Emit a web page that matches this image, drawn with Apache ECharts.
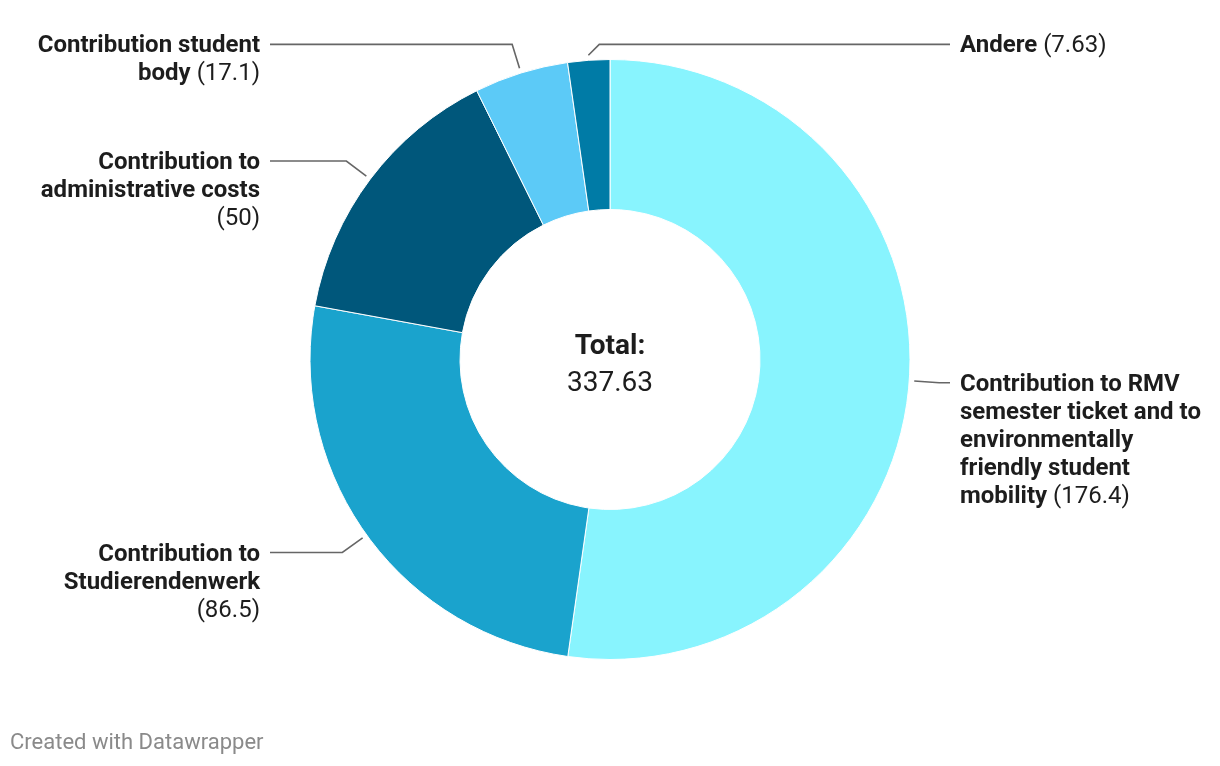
<!DOCTYPE html>
<html>
<head>
<meta charset="utf-8">
<script src="https://cdn.jsdelivr.net/npm/echarts@6/dist/echarts.min.js"></script>
<style>
html, body { margin: 0; padding: 0; background: #ffffff; }
#chart { width: 1220px; height: 766px; }
</style>
</head>
<body>
<div id="chart"></div>
<script>
// ---- data ----
const categories = [
  "Contribution to RMV\nsemester ticket and to\nenvironmentally\nfriendly student\nmobility",
  "Contribution to\nStudierendenwerk",
  "Contribution to\nadministrative costs",
  "Contribution student\nbody",
  "Andere"
];
const values = [176.4, 86.5, 50, 17.1, 7.63];
const valueOnNewLine = [false, true, true, false, false];
const totalLabel = "Total:";
const footerText = "Created with Datawrapper";

// ---- styling ----
const colors = ["#88f4fe", "#1aa3cd", "#00577b", "#5ccaf7", "#007ba6"];
const FONT = "Roboto";
const LABEL_SIZE = 24;
const LINE_H = 28;
const CX = 610, CY = 359.5, R_IN = 150, R_OUT = 300;

const total = Math.round(values.reduce((a, b) => a + b, 0) * 100) / 100;

const chart = echarts.init(document.getElementById("chart"), null, { renderer: "canvas" });

const seenY = [];
function layoutLabel(p) {
  const pts = p.labelLinePoints;
  if (!pts) return {};
  const i = p.dataIndex;
  let p0 = pts[0].slice();
  let p1 = pts[1].slice();
  // small gap between slice edge and leader line
  const ux = p0[0] - CX, uy = p0[1] - CY, ul = Math.sqrt(ux * ux + uy * uy);
  p0 = [p0[0] + ux / ul * 5, p0[1] + uy / ul * 5];
  let side = p1[0] < CX ? -1 : 1;
  let y = p1[1];
  // labels of slices right at the top go to the right column, aligned with their neighbour
  if (Math.abs(p1[0] - CX) < 40 && i > 0 && seenY[i - 1] != null) {
    side = 1;
    y = seenY[i - 1];
    p1 = [p0[0] + (p0[1] - y), y];
  }
  seenY[i] = y;
  const lineEnd = CX + side * (R_OUT + 40);
  return {
    x: CX + side * (R_OUT + 50),
    y: y - LINE_H / 2 + 2,
    align: side < 0 ? "right" : "left",
    verticalAlign: "top",
    labelLinePoints: [p0, p1, [lineEnd, y]]
  };
}

const option = {
  backgroundColor: "#ffffff",
  animation: false,
  graphic: [
    {
      type: "text",
      x: CX, y: CY - 13,
      style: {
        text: totalLabel, fontFamily: FONT, fontSize: 28, fontWeight: "bold",
        fill: "#1d1d1d", align: "center", verticalAlign: "middle"
      }
    },
    {
      type: "text",
      x: CX, y: CY + 24,
      style: {
        text: String(total), fontFamily: FONT, fontSize: 28,
        fill: "#1d1d1d", align: "center", verticalAlign: "middle"
      }
    },
    {
      type: "text",
      left: 10, top: 732,
      style: {
        text: footerText, fontFamily: FONT, fontSize: 22, fill: "#8a8a8a"
      }
    }
  ],
  series: [
    {
      type: "pie",
      center: [CX, CY],
      radius: [R_IN, R_OUT],
      startAngle: 90,
      clockwise: true,
      avoidLabelOverlap: false,
      silent: true,
      itemStyle: { borderColor: "#ffffff", borderWidth: 1 },
      label: {
        show: true,
        position: "outside",
        fontFamily: FONT,
        fontSize: LABEL_SIZE,
        lineHeight: LINE_H,
        color: "#1d1d1d",
        formatter: function (p) {
          const lines = p.name.split("\n").map(l => "{b|" + l + "}");
          const v = "{v|(" + p.value + ")}";
          if (valueOnNewLine[p.dataIndex]) lines.push(v);
          else lines[lines.length - 1] += "{v| }" + v;
          return lines.join("\n");
        },
        rich: {
          b: { fontFamily: FONT, fontSize: LABEL_SIZE, fontWeight: "bold", lineHeight: LINE_H, color: "#1d1d1d" },
          v: { fontFamily: FONT, fontSize: LABEL_SIZE, fontWeight: "normal", lineHeight: LINE_H, color: "#1d1d1d" }
        }
      },
      labelLine: {
        show: true,
        length: 30,
        length2: 20,
        lineStyle: { color: "#666666", width: 1.6 }
      },
      labelLayout: layoutLabel,
      data: categories.map((c, i) => ({ name: c, value: values[i], itemStyle: { color: colors[i] } }))
    }
  ]
};
chart.setOption(option);
</script>
</body>
</html>
